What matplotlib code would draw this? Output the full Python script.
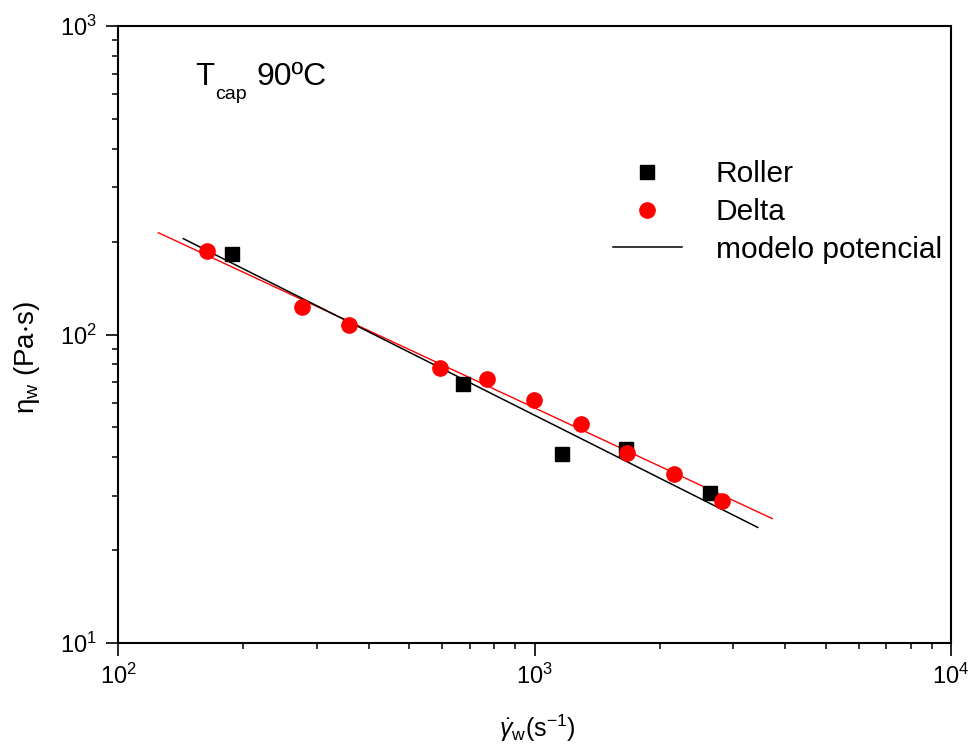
import matplotlib
matplotlib.use("Agg")
import matplotlib.pyplot as plt
from matplotlib.ticker import LogLocator, NullFormatter

plt.rcParams["font.family"] = ["Liberation Sans", "DejaVu Sans"]
plt.rcParams["mathtext.fontset"] = "custom"
plt.rcParams["mathtext.rm"] = "Liberation Sans"
plt.rcParams["mathtext.it"] = "Liberation Sans:italic"
plt.rcParams["mathtext.default"] = "regular"

# Roller (squares)
roller_rate = [188, 675, 1166, 1659, 2639]
roller_visc = [182, 69.3, 41.0, 42.6, 30.6]

# Delta (circles)
delta_rate = [164, 277, 359, 593, 767, 995, 1291, 1671, 2167, 2814]
delta_visc = [186, 122.7, 107.5, 77.6, 72.0, 61.5, 51.4, 41.3, 35.3, 28.9]

# power-law model fits (end points of straight lines in log-log)
fit_roller_rate = [143.5, 3434]
fit_roller_visc = [204.5, 23.7]
fit_delta_rate = [125, 3724]
fit_delta_visc = [213.8, 25.3]

x_ticks = [1e2, 1e3, 1e4]
x_ticklabels = [r"$10^{2}$", r"$10^{3}$", r"$10^{4}$"]
y_ticks = [1e1, 1e2, 1e3]
y_ticklabels = [r"$10^{1}$", r"$10^{2}$", r"$10^{3}$"]

fig = plt.figure(figsize=(9.71, 7.51), dpi=100)
ax = fig.add_axes([118 / 971, 1 - 643 / 751, (951 - 118) / 971, (643 - 26) / 751])

ax.plot(fit_delta_rate, fit_delta_visc, color="red", lw=1.0, zorder=2)
ax.plot(fit_roller_rate, fit_roller_visc, color="black", lw=1.1, zorder=2,
        label="modelo potencial")
ax.plot(roller_rate, roller_visc, "s", color="black", ms=10, ls="none",
        label="Roller", zorder=3)
ax.plot(delta_rate, delta_visc, "o", color="red", ms=11, ls="none",
        label="Delta", zorder=4)

ax.set_xscale("log")
ax.set_yscale("log")
ax.set_xlim(100, 1e4)
ax.set_ylim(10, 1000)

for axis in (ax.xaxis, ax.yaxis):
    axis.set_minor_locator(LogLocator(base=10, subs=range(2, 10)))
    axis.set_minor_formatter(NullFormatter())
ax.set_xticks(x_ticks, labels=x_ticklabels, fontsize=17)
ax.set_yticks(y_ticks, labels=y_ticklabels, fontsize=17)

ax.tick_params(which="major", direction="out", length=9, width=1.2, pad=6)
ax.tick_params(which="minor", direction="out", length=4.5, width=1.1)
for s in ax.spines.values():
    s.set_linewidth(1.5)

ax.set_xlabel(r"$\dot{\mathit{\gamma}}_{w}$(s$^{-1}$)", fontsize=18)
ax.xaxis.set_label_coords(0.504, -0.112)
ax.set_ylabel(r"$\eta_{w}$ (Pa$\cdot$s)", fontsize=20)
ax.yaxis.set_label_coords(-0.091, 0.462)

# T_cap 90ºC annotation
fig.text(195 / 971, 1 - 85 / 751, "T", fontsize=22.5, va="baseline")
fig.text(215 / 971, 1 - 99 / 751, "cap", fontsize=14, va="baseline")
fig.text(257 / 971, 1 - 85 / 751, "90ºC", fontsize=23, va="baseline")

handles, labels = ax.get_legend_handles_labels()
order = [1, 2, 0]
ax.legend([handles[i] for i in order], [labels[i] for i in order],
          loc="upper left", bbox_to_anchor=(598 / 971, 1 - 145.5 / 751),
          bbox_transform=fig.transFigure, frameon=False, fontsize=21.5,
          borderpad=0, labelspacing=0.32, handlelength=2.3, handletextpad=1.15)

fig.savefig("out.png", dpi=100)
